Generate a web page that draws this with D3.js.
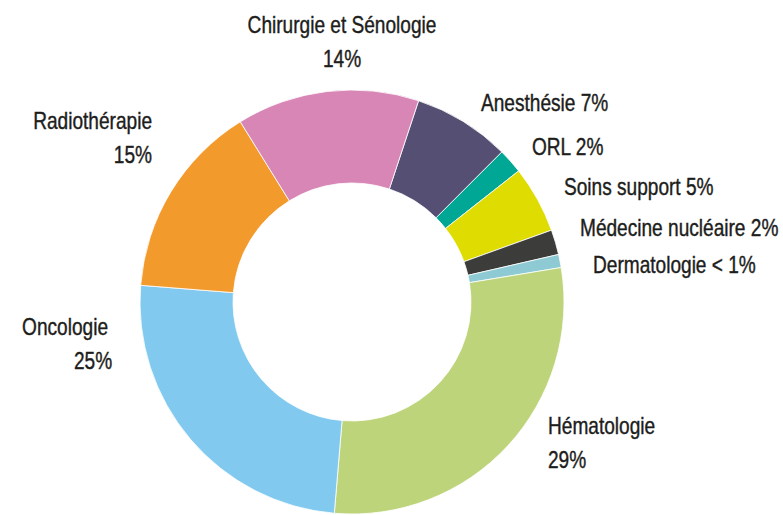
<!DOCTYPE html>
<html>
<head>
<meta charset="utf-8">
<script src="https://cdn.jsdelivr.net/npm/d3@7"></script>
<style>
  body { margin: 0; background: #fff; }
  text { font-family: "Liberation Sans", Arial, sans-serif; font-size: 23px; fill: #1d1d1b; stroke: #1d1d1b; stroke-width: 0.4px; }
</style>
</head>
<body>
<div id="container"></div>
<script>
// services, clockwise from the top right
var services = ["Anesthésie", "ORL", "Soins support", "Médecine nucléaire", "Dermatologie",
                "Hématologie", "Oncologie", "Radiothérapie", "Chirurgie et Sénologie"];
var shares = [7.4, 1.9, 5.1, 1.9, 1.0, 28.9, 24.9, 14.9, 13.9];
var shareLabels = ["7%", "2%", "5%", "2%", "< 1%", "29%", "25%", "15%", "14%"];
var colors = ["#544f73", "#00a795", "#dedc00", "#3c3c3a", "#8ecad3",
              "#bdd47a", "#82c9f0", "#f39a2d", "#d886b6"];

var width = 783, height = 515;
var cx = 352, cy = 302, outerR = 212, innerR = 119;
var squeeze = 0.83; // condensed look

var svg = d3.select('#container').append('svg')
  .attr('width', width)
  .attr('height', height);

var data = services.map(function(s, i) {
  return { name: s, value: shares[i], label: shareLabels[i], color: colors[i] };
});

var start = 18.3 * Math.PI / 180;
var pie = d3.pie()
  .sort(null)
  .value(function(d) { return d.value; })
  .startAngle(start)
  .endAngle(start + 2 * Math.PI);

var arc = d3.arc().innerRadius(innerR).outerRadius(outerR);

var g = svg.append('g').attr('transform', 'translate(' + cx + ',' + cy + ')');

g.selectAll('path')
  .data(pie(data))
  .enter().append('path')
  .attr('d', arc)
  .attr('fill', function(d) { return d.data.color; })
  .attr('stroke', '#fff')
  .attr('stroke-width', 0.8);

// label placement: [x, y, anchor, two lines?]
var labelPos = {
  "Anesthésie": [481, 111, "start", false],
  "ORL": [532, 155, "start", false],
  "Soins support": [564, 195, "start", false],
  "Médecine nucléaire": [580, 236, "start", false],
  "Dermatologie": [593, 273, "start", false],
  "Hématologie": [548, 434, "start", true],
  "Oncologie": [108, 335, "end", true],
  "Radiothérapie": [152, 129, "end", true],
  "Chirurgie et Sénologie": [342, 33, "middle", true]
};

data.forEach(function(d) {
  var p = labelPos[d.name];
  var t = svg.append('g')
    .attr('transform', 'translate(' + p[0] + ',' + p[1] + ') scale(' + squeeze + ',1)')
    .append('text')
    .attr('text-anchor', p[2]);
  if (p[3]) {
    t.append('tspan').attr('x', 0).text(d.name);
    t.append('tspan').attr('x', d.name === "Oncologie" ? 5 : 0).attr('dy', 34).text(d.label);
  } else {
    t.text(d.name + ' ' + d.label);
  }
});
</script>
</body>
</html>
